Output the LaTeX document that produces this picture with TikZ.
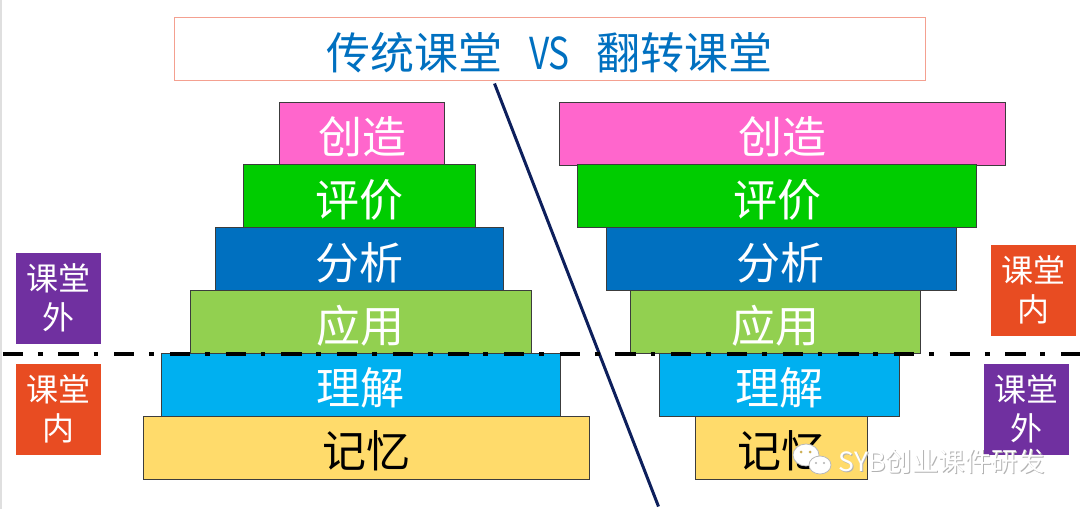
\documentclass[tikz,border=0pt]{standalone}
\usepackage{fontspec}
\usepackage{graphicx}
\setmainfont{Noto Sans CJK SC}
\usetikzlibrary{calc}
\definecolor{cPink}{HTML}{FF66CC}
\definecolor{cGreen}{HTML}{00CC00}
\definecolor{cBlue}{HTML}{0070C0}
\definecolor{cLight}{HTML}{92D050}
\definecolor{cCyan}{HTML}{00B0F0}
\definecolor{cYellow}{HTML}{FFDB6B}
\definecolor{cPurple}{HTML}{7030A0}
\definecolor{cOrange}{HTML}{E84C22}
\definecolor{cNavy}{HTML}{0D1F5C}
\definecolor{cTitleBorder}{HTML}{F4A090}
\definecolor{cEdge}{HTML}{3C3C3C}
\tikzset{
  lvl/.style={draw=cEdge, line width=0.8pt, inner sep=0pt, minimum height=63pt,
    text height=40pt, text depth=0pt, text=white, font=\fontsize{44}{48}\selectfont},
  side/.style={inner sep=0pt, minimum width=85pt, minimum height=91pt, text=white,
    align=center, font=\fontsize{32}{39}\selectfont},
  titlebox/.style={draw=cTitleBorder, line width=1pt, inner sep=0pt, minimum width=751pt,
    minimum height=63pt, text height=40pt, text depth=0pt, text=cBlue,
    font=\fontsize{44}{48}\selectfont},
  divider/.style={line width=4.3pt, black, dash pattern=on 20.3pt off 14.8pt on 4.8pt off 15.8pt, dash phase=52.95pt},
  diag/.style={line width=3pt, cNavy},
  wmark/.style={font=\fontsize{26.5}{28}\selectfont, inner sep=0pt}
}
\begin{document}
\begin{tikzpicture}[x=1pt,y=-1pt]
\useasboundingbox (0,0) rectangle (1080,509);
\fill[white] (0,0) rectangle (1080,509);
\draw[gray!25, line width=1.5pt] (1,0) -- (1,509);

% title
\node[titlebox] (title) at (549.5,49.2) {传统课堂\hspace{27pt}\scalebox{0.8}[1]{VS}\hspace{27pt}翻转课堂};

% left pyramid (traditional)
\node[lvl, fill=cPink,   minimum width=165pt] (L1) at (362.1,133.4) {创造};
\node[lvl, fill=cGreen,  minimum width=232pt] (L2) at (359.7,196.2) {评价};
\node[lvl, fill=cBlue,   minimum width=288pt] (L3) at (359.2,259.2) {分析};
\node[lvl, fill=cLight,  minimum width=341pt] (L4) at (360.9,322.2) {应用};
\node[lvl, fill=cCyan,   minimum width=399pt] (L5) at (360.6,384.9) {理解};
\node[lvl, fill=cYellow, minimum width=446pt, text=black] (L6) at (366.1,447.5) {记忆};

% right pyramid (flipped)
\node[lvl, fill=cPink,   minimum width=446pt] (R1) at (782.6,133.4) {创造};
\node[lvl, fill=cGreen,  minimum width=399pt] (R2) at (777.1,196.2) {评价};
\node[lvl, fill=cBlue,   minimum width=350pt] (R3) at (780.9,259.2) {分析};
\node[lvl, fill=cLight,  minimum width=290pt] (R4) at (775.0,322.2) {应用};
\node[lvl, fill=cCyan,   minimum width=240pt] (R5) at (779.0,384.9) {理解};
\node[lvl, fill=cYellow, minimum width=172pt, text=black] (R6) at (781.1,447.5) {记忆};

% side labels
\node[side, fill=cPurple] (LO) at (58.4,298.2) {课堂\\外};
\node[side, fill=cOrange] (LI) at (58.4,409.3) {课堂\\内};
\node[side, fill=cOrange] (RI) at (1033.4,290.2) {课堂\\内};
\node[side, fill=cPurple] (RO) at (1026.8,409.2) {课堂\\外};

% diagonal separator
\coordinate (dTop) at (494.5,83.5);
\coordinate (dBot) at (658.5,506.5);
\draw[diag] (dTop) -- (dBot);

% dash-dot divider
\coordinate (hL) at (0,353.7);
\coordinate (hR) at (1080,353.7);
\draw[divider] (hL) -- (hR);

% watermark
\coordinate (wc) at (806,455);
\filldraw[fill=white, draw=gray!55, line width=0.8pt] (wc) ellipse (13pt and 11pt);
\filldraw[fill=white, draw=gray!55, line width=0.8pt] ($(wc)+(14,10)$) ellipse (11pt and 9pt);
\fill[cYellow!80!black] ($(wc)+(-5,-3)$) circle (1.5pt) ($(wc)+(4,-3)$) circle (1.5pt);
\fill[gray!60] ($(wc)+(10,8)$) circle (1.2pt) ($(wc)+(18,8)$) circle (1.2pt);
\node[wmark, text=gray!60, anchor=west] (wmS) at (839.5,462.5) {SYB创业课件研发};
\node[wmark, text=white, anchor=west] (wm) at (838.5,461.5) {SYB创业课件研发};
\end{tikzpicture}
\end{document}
